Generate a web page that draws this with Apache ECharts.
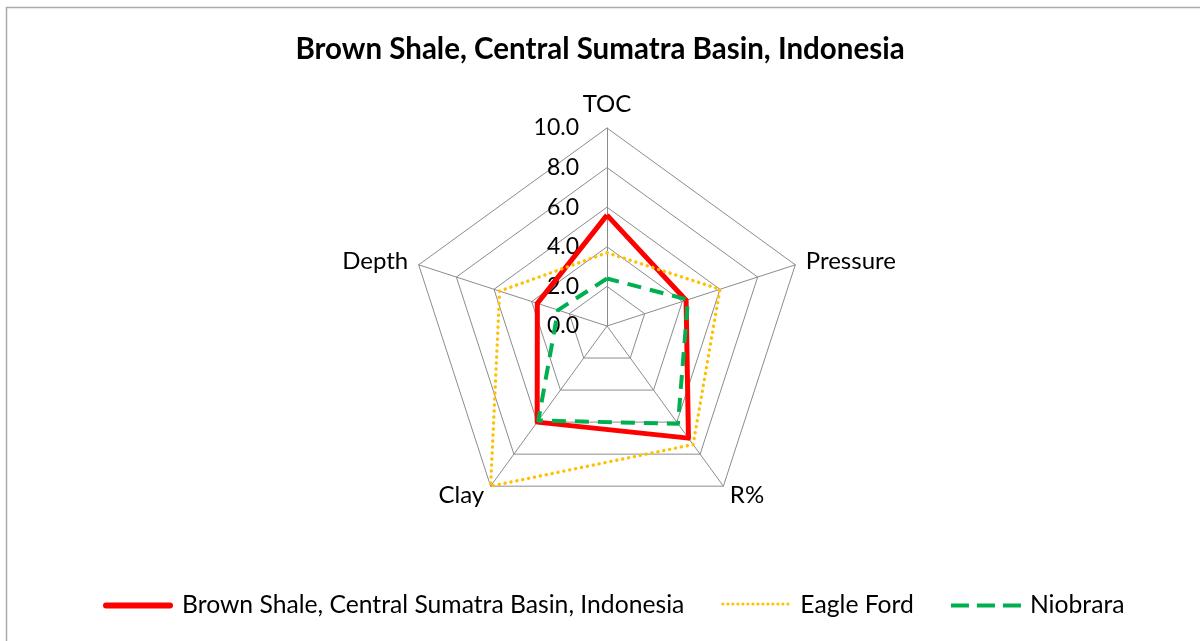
<!DOCTYPE html>
<html>
<head>
<meta charset="utf-8">
<script src="https://cdn.jsdelivr.net/npm/echarts@6/dist/echarts.min.js"></script>
<style>
html,body{margin:0;padding:0;background:#fff;}
#chart{width:1200px;height:641px;}
</style>
</head>
<body>
<div id="chart"></div>
<script>
// Categories in clockwise order starting at top
const categories = ['TOC', 'Pressure', 'R%', 'Clay', 'Depth'];
const brownShale = [5.6, 4.2, 7.0, 6.0, 3.7];
const eagleFord = [3.7, 6.0, 7.4, 10.0, 5.7];
const niobrara = [2.4, 4.3, 6.1, 5.9, 2.6];
const seriesNames = ['Brown Shale, Central Sumatra Basin, Indonesia', 'Eagle Ford', 'Niobrara'];
const axisMax = 10;
const tickInterval = 2;

// ECharts lays indicators counter-clockwise: reorder
const order = [0, 4, 3, 2, 1];
const reorder = arr => order.map(i => arr[i]);

const FONT = 'Lato';
const chart = echarts.init(document.getElementById('chart'));

const indicator = reorder(categories).map((c, i) => ({
  name: c, min: 0, max: axisMax,
  axisLabel: { show: i === 0 }
}));

chart.setOption({
  animation: false,
  backgroundColor: '#fff',
  graphic: [{
    type: 'rect', silent: true,
    shape: { x: 6.5, y: 7.5, width: 1400, height: 800 },
    style: { fill: 'none', stroke: '#ababab', lineWidth: 1.5 }
  }],
  title: {
    text: 'Brown Shale, Central Sumatra Basin, Indonesia',
    left: 'center', top: 29,
    padding: [5, 5, 5, 17],
    textStyle: { fontFamily: FONT, fontWeight: 'bold', fontSize: 29.5, color: '#000' }
  },
  legend: {
    left: 98, top: 588,
    itemWidth: 70, itemHeight: 8, itemGap: 37,
    textStyle: { fontFamily: FONT, fontSize: 24.7, color: '#000', padding: [0, 0, 0, 4] },
    data: [
      { name: seriesNames[0], icon: 'path://M3,0h64a3,3 0 0 1 0,6h-64a3,3 0 0 1 0,-6z', itemStyle: { color: '#ff0000' } },
      { name: seriesNames[1], icon: 'path://M0,2.5a1.6,1.6 0 1 0 3.2,0a1.6,1.6 0 1 0 -3.2,0zM5,2.5a1.6,1.6 0 1 0 3.2,0a1.6,1.6 0 1 0 -3.2,0zM10,2.5a1.6,1.6 0 1 0 3.2,0a1.6,1.6 0 1 0 -3.2,0zM15,2.5a1.6,1.6 0 1 0 3.2,0a1.6,1.6 0 1 0 -3.2,0zM20,2.5a1.6,1.6 0 1 0 3.2,0a1.6,1.6 0 1 0 -3.2,0zM25,2.5a1.6,1.6 0 1 0 3.2,0a1.6,1.6 0 1 0 -3.2,0zM30,2.5a1.6,1.6 0 1 0 3.2,0a1.6,1.6 0 1 0 -3.2,0zM35,2.5a1.6,1.6 0 1 0 3.2,0a1.6,1.6 0 1 0 -3.2,0zM40,2.5a1.6,1.6 0 1 0 3.2,0a1.6,1.6 0 1 0 -3.2,0zM45,2.5a1.6,1.6 0 1 0 3.2,0a1.6,1.6 0 1 0 -3.2,0zM50,2.5a1.6,1.6 0 1 0 3.2,0a1.6,1.6 0 1 0 -3.2,0zM55,2.5a1.6,1.6 0 1 0 3.2,0a1.6,1.6 0 1 0 -3.2,0zM60,2.5a1.6,1.6 0 1 0 3.2,0a1.6,1.6 0 1 0 -3.2,0zM65,2.5a1.6,1.6 0 1 0 3.2,0a1.6,1.6 0 1 0 -3.2,0zM0,0h0.01v8h-0.01zM69.99,0h0.01v8h-0.01z', itemStyle: { color: '#ffc000' } },
      { name: seriesNames[2], icon: 'path://M0,2h18v4h-18zM26,2h18v4h-18zM52,2h18v4h-18zM0,0h0.01v8h-0.01zM69.99,0h0.01v8h-0.01z', itemStyle: { color: '#00b050' } }
    ]
  },
  radar: {
    center: [607, 326],
    radius: 198,
    startAngle: 90,
    shape: 'polygon',
    splitNumber: axisMax / tickInterval,
    indicator: indicator,
    nameGap: 11,
    axisName: { color: '#000', fontFamily: FONT, fontSize: 24 },
    axisLine: { lineStyle: { color: '#8c8c8c', width: 1 } },
    splitLine: { lineStyle: { color: '#8c8c8c', width: 1 } },
    splitArea: { show: false },
    axisTick: { show: false },
    axisLabel: {
      color: '#000', fontFamily: FONT, fontSize: 23,
      margin: 28,
      formatter: v => Number(v).toFixed(1)
    }
  },
  series: [
    {
      name: seriesNames[0], type: 'radar', symbol: 'none',
      lineStyle: { color: '#ff0000', width: 5, join: 'round' },
      itemStyle: { color: '#ff0000' },
      data: [{ name: seriesNames[0], value: reorder(brownShale) }]
    },
    {
      name: seriesNames[1], type: 'radar', symbol: 'none',
      lineStyle: { color: '#ffc000', width: 3.4, type: [0.1, 5.9], cap: 'round' },
      itemStyle: { color: '#ffc000' },
      data: [{ name: seriesNames[1], value: reorder(eagleFord) }]
    },
    {
      name: seriesNames[2], type: 'radar', symbol: 'none',
      lineStyle: { color: '#00b050', width: 4, type: [14, 9] },
      itemStyle: { color: '#00b050' },
      data: [{ name: seriesNames[2], value: reorder(niobrara) }]
    }
  ]
});
</script>
</body>
</html>
